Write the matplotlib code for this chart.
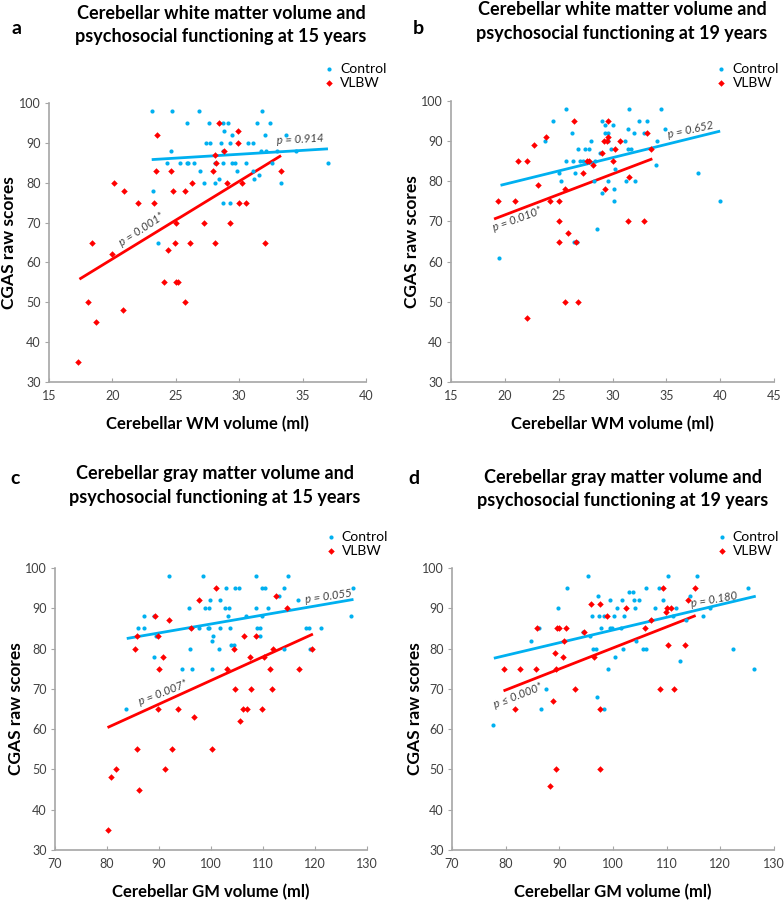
import matplotlib
matplotlib.use("Agg")
import matplotlib.pyplot as plt

plt.rcParams['font.family'] = ['Lato', 'DejaVu Sans']

# ---------------- Panel a: WM volume at 15 years ----------------
a_ctrl_x = [23.1, 24.7, 26.8, 31.8, 25.9, 27.6, 28.7, 29.1, 31.4, 32.4, 28.8, 29.4, 32.0, 33.7,
            27.4, 27.7, 28.6, 29.3, 30.7, 31.1, 24.6, 28.7, 31.7, 32.1, 33.0, 34.5,
            24.3, 25.3, 25.9, 26.0, 26.4, 28.1, 28.7, 29.4, 29.7, 30.5, 32.6, 37.0,
            26.9, 29.8, 31.1, 28.4, 31.2, 31.6, 27.2, 28.1, 33.3, 23.2, 28.7, 29.3, 23.6]
a_ctrl_y = [98, 98, 98, 98, 95, 95, 95, 95, 95, 95, 93, 92, 92, 92,
            90, 90, 90, 90, 90, 90, 88, 88, 88, 88, 88, 88,
            85, 85, 85, 85, 85, 85, 85, 85, 85, 85, 85, 85,
            83, 83, 83, 81, 81, 82, 80, 80, 80, 78, 75, 75, 65]
a_vlbw_x = [28.4, 29.9, 23.5, 29.9, 28.8, 28.1, 28.2, 23.4, 24.6, 27.9, 33.3,
            20.1, 26.3, 29.0, 30.2, 20.9, 24.8, 25.7, 22.0, 23.3, 30.0, 30.5,
            25.0, 27.2, 29.3, 18.4, 24.9, 26.1, 28.1, 32.0, 20.0, 24.4,
            24.1, 25.0, 25.2, 18.1, 25.7, 20.8, 18.7, 17.3]
a_vlbw_y = [95, 93, 92, 90, 88, 87, 85, 83, 83, 83, 83,
            80, 80, 80, 80, 78, 78, 78, 75, 75, 75, 75,
            70, 70, 70, 65, 65, 65, 65, 65, 62, 63,
            55, 55, 55, 50, 50, 48, 45, 35]
a_fit_ctrl_x = [23.1, 37.0]
a_fit_ctrl_y = [85.8, 88.5]
a_fit_vlbw_x = [17.4, 33.3]
a_fit_vlbw_y = [55.8, 86.8]

# ---------------- Panel b: WM volume at 19 years ----------------
b_ctrl_x = [25.7, 31.5, 34.5, 24.5, 29.0, 32.5, 33.2, 29.3, 30.0, 31.4, 34.9,
            26.2, 29.3, 29.6, 32.0, 32.9, 23.7, 28.0, 29.6, 31.2, 34.1,
            26.8, 27.4, 27.8, 29.9, 31.4, 31.7, 28.8,
            25.7, 26.3, 27.0, 27.3, 28.4, 34.0, 30.2, 25.0, 26.5, 37.9,
            25.2, 28.3, 29.6, 31.3, 32.1, 29.0, 30.1, 30.1, 40.0, 28.6, 26.4, 26.7, 19.5]
b_ctrl_y = [98, 98, 98, 95, 95, 95, 95, 94, 94, 93, 93,
            92, 92, 92, 92, 92, 90, 90, 90, 90, 90,
            88, 88, 88, 88, 88, 88, 87,
            85, 85, 85, 85, 85, 84, 83, 82, 82, 82,
            80, 80, 80, 80, 80, 77, 78, 75, 75, 68, 65, 65, 61]
b_vlbw_x = [26.4, 29.6, 23.8, 29.6, 33.2, 22.7, 29.2, 29.5, 30.7, 30.2, 33.6, 29.0,
            21.2, 22.1, 27.6, 27.8, 30.0, 28.2, 27.3, 31.5, 23.1, 25.6, 29.3,
            19.4, 20.9, 24.2, 25.0, 25.0, 31.4, 32.9, 25.9, 25.0, 26.6, 25.6, 26.8, 22.1]
b_vlbw_y = [95, 95, 91, 91, 92, 89, 90, 90, 90, 88, 88, 87,
            85, 85, 85, 85, 85, 84, 82, 81, 79, 78, 78,
            75, 75, 75, 75, 70, 70, 70, 67, 65, 65, 50, 50, 46]
b_fit_ctrl_x = [19.6, 40.0]
b_fit_ctrl_y = [79.0, 92.5]
b_fit_vlbw_x = [19.0, 33.7]
b_fit_vlbw_y = [70.6, 85.6]

# ---------------- Panel c: GM volume at 15 years ----------------
c_ctrl_x = [91.9, 98.4, 108.6, 114.9, 102.8, 104.7, 105.3, 109.9, 110.4, 114.1, 127.3,
            113.0, 99.8, 101.7, 116.8, 95.7, 98.9, 99.7, 102.7, 103.4, 108.6, 111.0,
            87.1, 89.1, 103.2, 106.7, 109.9, 127.0,
            86.0, 87.1, 96.1, 97.6, 99.4, 99.7, 101.7, 103.6, 108.9, 109.5, 118.3, 118.9, 121.2,
            100.4, 109.5, 100.2, 89.4, 103.9, 104.5, 95.9, 101.5, 114.1, 119.0,
            89.0, 94.5, 96.3, 100.2, 83.7]
c_ctrl_y = [98, 98, 98, 98, 95, 95, 95, 95, 95, 95, 95,
            93, 92, 92, 92, 90, 90, 90, 90, 90, 90, 90,
            88, 88, 88, 88, 88, 88,
            85, 85, 85, 85, 85, 85, 85, 85, 85, 85, 85, 85, 85,
            83, 83, 82, 83, 81, 81, 80, 80, 80, 80,
            78, 75, 75, 75, 65]
c_vlbw_x = [100.9, 97.7, 112.5, 89.3, 92.0, 114.7, 96.1, 85.7, 89.9, 106.3, 108.6,
            85.3, 104.5, 112.0, 119.5, 90.7, 107.5, 110.2, 90.0, 103.0, 111.3, 116.9,
            104.7, 107.6, 111.7, 89.9, 93.6, 106.1, 107.0, 109.9, 96.8, 105.5,
            85.8, 92.5, 100.1, 81.7, 91.1, 80.7, 86.2, 80.1]
c_vlbw_y = [95, 92, 93, 88, 87, 90, 85, 83, 83, 83, 83,
            80, 80, 80, 80, 78, 78, 78, 75, 75, 75, 75,
            70, 70, 70, 65, 65, 65, 65, 65, 63, 62,
            55, 55, 55, 50, 50, 48, 45, 35]
c_fit_ctrl_x = [83.8, 127.4]
c_fit_ctrl_y = [82.5, 92.2]
c_fit_vlbw_x = [80.1, 119.6]
c_fit_vlbw_y = [60.4, 83.6]

# ---------------- Panel d: GM volume at 19 years ----------------
d_ctrl_x = [95.3, 110.2, 115.7, 91.4, 106.1, 108.6, 125.1, 97.2, 114.4, 103.0, 103.7,
            99.4, 101.6, 104.0, 104.8, 109.3, 89.8, 100.7, 104.1, 107.8, 111.7, 118.1,
            96.1, 97.3, 98.4, 100.1, 102.0, 111.1, 116.8,
            86.2, 97.8, 99.4, 99.9, 101.4, 94.5, 95.7, 107.0, 113.6, 84.7, 104.2,
            96.3, 96.9, 101.9, 105.6, 106.2, 122.4, 100.4, 112.4, 99.1, 126.3,
            87.6, 97.0, 86.5, 98.4, 77.6]
d_ctrl_y = [98, 98, 98, 95, 95, 95, 95, 93, 93, 94, 94,
            92, 92, 92, 92, 92, 90, 90, 90, 90, 90, 90,
            88, 88, 88, 88, 88, 88, 88,
            85, 85, 85, 85, 85, 84, 83, 87, 87, 82, 82,
            80, 80, 80, 80, 80, 80, 78, 77, 75, 75,
            70, 68, 65, 65, 61]
d_vlbw_x = [109.3, 115.2, 113.9, 95.9, 97.6, 102.4, 110.0, 110.9, 98.9, 109.8, 107.0,
            85.8, 89.5, 90.0, 91.2, 106.0, 94.6, 90.8, 110.2, 113.5, 89.1, 90.6, 96.5,
            79.6, 82.6, 85.7, 89.4, 93.0, 108.8, 111.4, 81.8, 97.5, 88.8, 89.4, 97.6, 88.3]
d_vlbw_y = [95, 95, 92, 91, 91, 90, 90, 90, 88, 89, 87,
            85, 85, 85, 85, 85, 84, 82, 81, 81, 79, 78, 78,
            75, 75, 75, 75, 70, 70, 70, 65, 65, 67, 50, 50, 46]
d_fit_ctrl_x = [77.8, 126.6]
d_fit_ctrl_y = [77.6, 93.0]
d_fit_vlbw_x = [79.6, 115.4]
d_fit_vlbw_y = [69.5, 88.2]

series_labels = ["Control", "VLBW"]
y_ticks = [30, 40, 50, 60, 70, 80, 90, 100]
wm15_ticks = [15, 20, 25, 30, 35, 40]
wm19_ticks = [15, 20, 25, 30, 35, 40, 45]
gm_ticks = [70, 80, 90, 100, 110, 120, 130]

BLUE = "#00B0F0"
RED = "#FF0000"
SPINE = "#A6A6A6"
TXT = "#404040"

W, H = 784, 902
fig = plt.figure(figsize=(W / 100, H / 100), dpi=100)


def px_axes(left, top, right, bottom):
    return fig.add_axes([left / W, 1 - bottom / H, (right - left) / W, (bottom - top) / H])


panels = [
    dict(box=(49, 103, 366, 382), letter="a", letter_xy=(12, 29), title_xy=(221, 25),
         title="Cerebellar white matter volume and\npsychosocial functioning at 15 years",
         cx=a_ctrl_x, cy=a_ctrl_y, vx=a_vlbw_x, vy=a_vlbw_y,
         fcx=a_fit_ctrl_x, fcy=a_fit_ctrl_y, fvx=a_fit_vlbw_x, fvy=a_fit_vlbw_y,
         xt=wm15_ticks, xlabel="Cerebellar WM volume (ml)", ylab_x=-0.101, leg=(0.866, 1.143),
         pv=("p = 0.001*", 22.3, 68.4, 33), pc=("p = 0.914", 34.8, 91.0, 3)),
    dict(box=(451, 101, 774, 382), letter="b", letter_xy=(413, 29), title_xy=(622, 21.5),
         title="Cerebellar white matter volume and\npsychosocial functioning at 19 years",
         cx=b_ctrl_x, cy=b_ctrl_y, vx=b_vlbw_x, vy=b_vlbw_y,
         fcx=b_fit_ctrl_x, fcy=b_fit_ctrl_y, fvx=b_fit_vlbw_x, fvy=b_fit_vlbw_y,
         xt=wm19_ticks, xlabel="Cerebellar WM volume (ml)", ylab_x=-0.096, leg=(0.820, 1.135),
         pv=("p = 0.010*", 21.2, 70.6, 20), pc=("p = 0.652", 37.3, 92.9, 12)),
    dict(box=(55, 568, 367, 850), letter="c", letter_xy=(10, 478), title_xy=(215, 485.5),
         title="Cerebellar gray matter volume and\npsychosocial functioning at 15 years",
         cx=c_ctrl_x, cy=c_ctrl_y, vx=c_vlbw_x, vy=c_vlbw_y,
         fcx=c_fit_ctrl_x, fcy=c_fit_ctrl_y, fvx=c_fit_vlbw_x, fvy=c_fit_vlbw_y,
         xt=gm_ticks, xlabel="Cerebellar GM volume (ml)", ylab_x=-0.099, leg=(0.866, 1.131),
         pv=("p = 0.007*", 90.8, 69.0, 21), pc=("p = 0.055", 122.6, 93.0, 8)),
    dict(box=(452, 568, 774, 850), letter="d", letter_xy=(408, 478), title_xy=(623, 489),
         title="Cerebellar gray matter volume and\npsychosocial functioning at 19 years",
         cx=d_ctrl_x, cy=d_ctrl_y, vx=d_vlbw_x, vy=d_vlbw_y,
         fcx=d_fit_ctrl_x, fcy=d_fit_ctrl_y, fvx=d_fit_vlbw_x, fvy=d_fit_vlbw_y,
         xt=gm_ticks, xlabel="Cerebellar GM volume (ml)", ylab_x=-0.090, leg=(0.820, 1.131),
         pv=("p \u2264 0.000*", 82.4, 68.4, 21), pc=("p = 0.180", 118.8, 92.3, 10)),
]

for p in panels:
    l, t, r, b = p["box"]
    ax = px_axes(l, t, r, b)
    ax.scatter(p["cx"], p["cy"], s=9, marker="o", color=BLUE, linewidths=0, label=series_labels[0], zorder=3)
    ax.scatter(p["vx"], p["vy"], s=11, marker="D", color=RED, linewidths=0, label=series_labels[1], zorder=4)
    ax.plot(p["fcx"], p["fcy"], color=BLUE, lw=2.0, zorder=2, solid_capstyle="butt")
    ax.plot(p["fvx"], p["fvy"], color=RED, lw=2.0, zorder=2, solid_capstyle="butt")
    xt = p["xt"]
    ax.set_xlim(xt[0], xt[-1])
    ax.set_ylim(30, 100)
    ax.set_xticks(xt)
    ax.set_yticks(y_ticks)
    for s in ("top", "right"):
        ax.spines[s].set_visible(False)
    for s in ("left", "bottom"):
        ax.spines[s].set_color(SPINE)
        ax.spines[s].set_linewidth(1.2)
    ax.tick_params(axis="x", direction="in", length=3, color=SPINE, labelsize=9, labelcolor=TXT, pad=6)
    ax.tick_params(axis="y", direction="out", length=3, color=SPINE, labelsize=9, labelcolor=TXT, pad=3)
    ax.set_xlabel(p["xlabel"], fontsize=12, fontweight="bold", color="black", labelpad=10)
    ax.set_ylabel("CGAS raw scores", fontsize=12.5, fontweight="bold", color="black")
    ax.yaxis.set_label_coords(p["ylab_x"], 0.5)

    for key in ("pv", "pc"):
        txt, x, y, rot = p[key]
        ax.text(x, y, txt, fontsize=8.2, style="italic", color=TXT, rotation=rot,
                ha="center", va="center", rotation_mode="anchor")

    ax.legend(loc="upper left", bbox_to_anchor=p["leg"], frameon=False, fontsize=10,
              handletextpad=0.4, handlelength=0.8, borderaxespad=0, borderpad=0,
              labelspacing=0.12, scatterpoints=1)

    tx, ty = p["title_xy"]
    fig.text(tx / W, 1 - ty / H, p["title"], ha="center", va="center",
             fontsize=13, fontweight="bold", color="black", linespacing=1.45)
    lx, ly = p["letter_xy"]
    fig.text(lx / W, 1 - ly / H, p["letter"], ha="left", va="center",
             fontsize=14, fontweight="bold", color="black")

fig.savefig("out.png", dpi=100, facecolor="white")
